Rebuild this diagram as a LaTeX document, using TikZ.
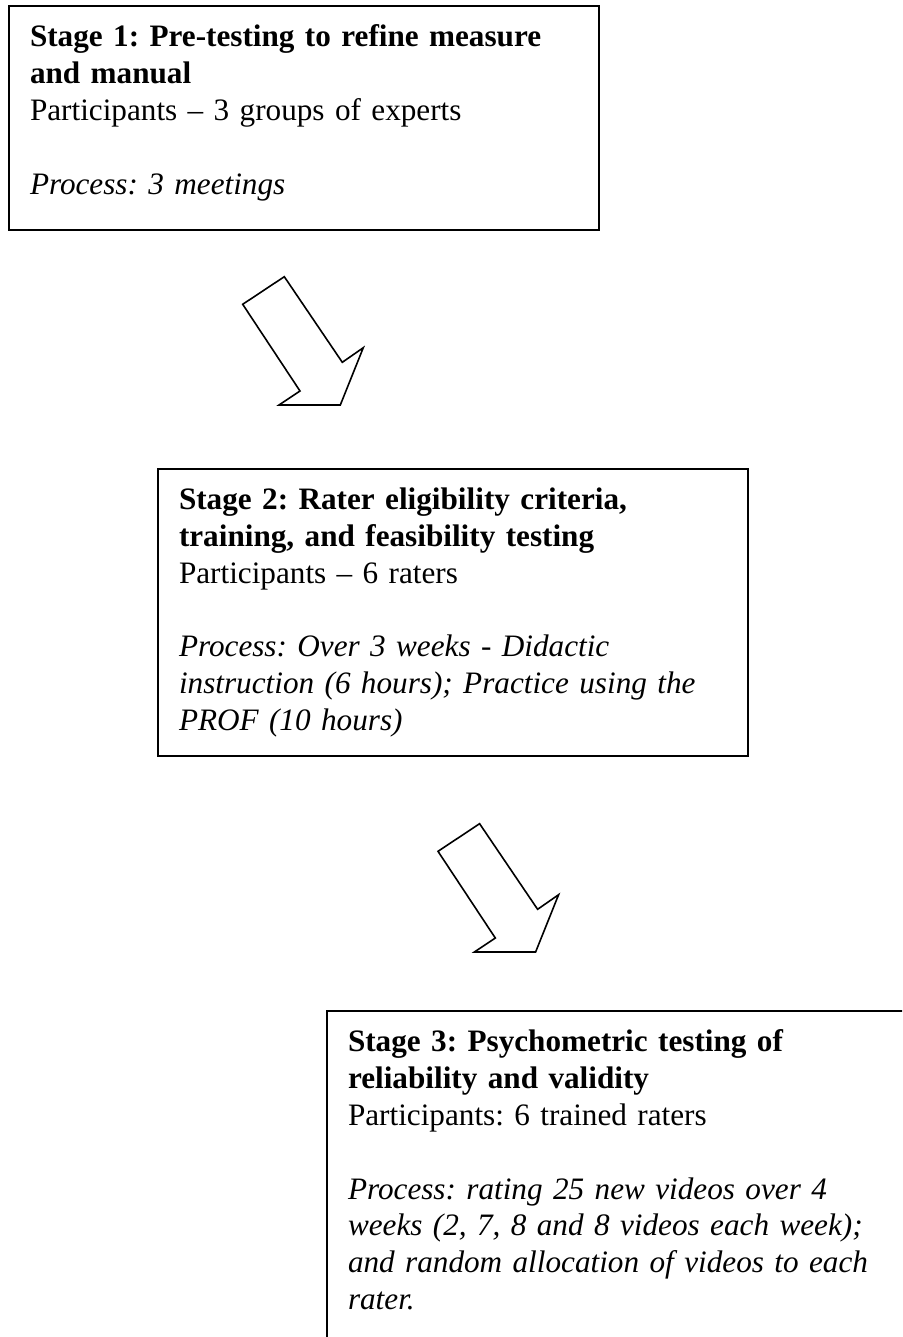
\documentclass[tikz,border=0pt]{standalone}
\usepackage{fontspec}
\setmainfont{Liberation Serif}

\begin{document}
\begin{tikzpicture}[
  x=0.5pt, y=-0.5pt,
  font=\fontsize{15.6pt}{18.4pt}\selectfont\frenchspacing,
  stagebox/.style={rectangle, draw, line width=1pt, anchor=north west, align=left, text width=274pt, inner xsep=10.5pt, inner ysep=9.5pt},
  blockarrow/.pic={
    \draw[line width=0.8pt, line join=miter] (0,0) -- (41.6,-27.6) -- (99.6,58) -- (120.6,43.4) -- (97.6,100.7) -- (36.3,100.7) -- (57.3,86.7) -- cycle;
  }
]
  \clip (0,0) rectangle (902,1337);

  \node[stagebox] (stage1) at (8,5) {\textbf{Stage 1: Pre-testing to refine measure\\and manual}\\Participants – 3 groups of experts\\[18.4pt]\textit{Process: 3 meetings}\rule[-8.5pt]{0pt}{8.5pt}};
  \node[stagebox] (stage2) at (157,468) {\textbf{Stage 2: Rater eligibility criteria,\\training, and feasibility testing}\\Participants – 6 raters\\[18.4pt]\textit{Process: Over 3 weeks - Didactic\\instruction (6 hours); Practice using the\\PROF (10 hours)}};
  \node[stagebox] (stage3) at (326,1010) {\textbf{Stage 3: Psychometric testing of\\reliability and validity}\\Participants: 6 trained raters\\[18.4pt]\textit{Process: rating 25 new videos over 4\\weeks (2, 7, 8 and 8 videos each week);\\and random allocation of videos to each\\rater.}\rule[-40pt]{0pt}{40pt}};

  \coordinate (arr1) at (242.7,304.3);
  \coordinate (arr2) at (438,851.3);
  \pic at (arr1) {blockarrow};
  \pic at (arr2) {blockarrow};
\end{tikzpicture}
\end{document}
